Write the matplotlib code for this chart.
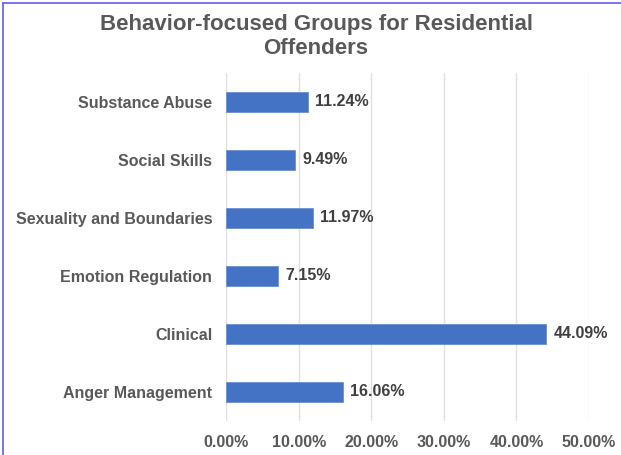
import matplotlib.pyplot as plt
from matplotlib.lines import Line2D

plt.rcParams['font.family'] = ['Liberation Sans', 'DejaVu Sans']

categories = ['Anger Management', 'Clinical', 'Emotion Regulation',
              'Sexuality and Boundaries', 'Social Skills', 'Substance Abuse']
values = [16.06, 44.09, 7.15, 11.97, 9.49, 11.24]
ticks = [0, 10, 20, 30, 40, 50]

fig = plt.figure(figsize=(6.21, 4.55), dpi=100)
ax = fig.add_axes([0.364, 0.075, 0.5845, 0.765])

bars = ax.barh(range(len(categories)), values, height=0.34,
               color='#4472C4', edgecolor='#6b8fd4', linewidth=0.6, zorder=3)
for b, v in zip(bars, values):
    ax.text(v + 1.0, b.get_y() + b.get_height() / 2, '%.2f%%' % v,
            va='center', ha='left', fontsize=11.5, fontweight='bold', color='#404040')

ax.set_xlim(0, 50)
ax.set_ylim(-0.5, len(categories) - 0.5)
ax.set_xticks(ticks)
ax.set_xticklabels(['%.2f%%' % t for t in ticks], fontsize=11.5,
                   fontweight='bold', color='#595959')
ax.set_yticks(range(len(categories)))
ax.set_yticklabels(categories, fontsize=11.5, fontweight='bold', color='#595959')
ax.tick_params(length=0, pad=10)
ax.tick_params(axis='x', pad=10)
ax.grid(axis='x', color='#e0e0e0', linewidth=1, zorder=0)
for s in ax.spines.values():
    s.set_visible(False)

fig.text(0.509, 0.92, 'Behavior-focused Groups for Residential\nOffenders',
         ha='center', va='center', fontsize=16, fontweight='bold',
         color='#595959', linespacing=1.2)

# thin blue frame on top and left
fig.add_artist(Line2D([0.005, 1], [0.994, 0.994], transform=fig.transFigure,
                      color='#6a6af5', linewidth=1.3))
fig.add_artist(Line2D([0.005, 0.005], [0, 0.994], transform=fig.transFigure,
                      color='#6a6af5', linewidth=1.3))

fig.savefig('out.png', dpi=100)
